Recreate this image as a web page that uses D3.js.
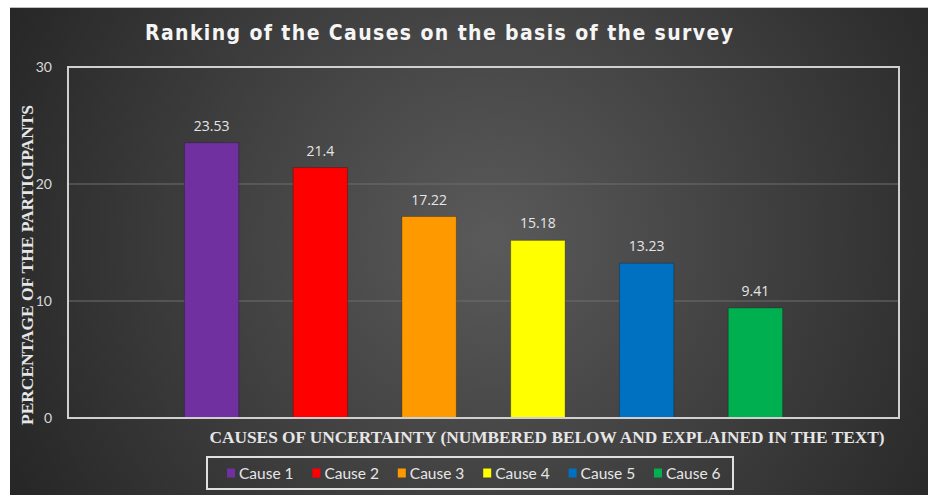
<!DOCTYPE html>
<html>
<head>
<meta charset="utf-8">
<script src="https://cdn.jsdelivr.net/npm/d3@7"></script>
<style>
  body { margin: 0; background: #ffffff; }
  svg { display: block; }
</style>
</head>
<body>
<div id="chart"></div>
<script>
// data
var causes = ["Cause 1", "Cause 2", "Cause 3", "Cause 4", "Cause 5", "Cause 6"];
var percentages = [23.53, 21.4, 17.22, 15.18, 13.23, 9.41];
var valueLabels = ["23.53", "21.4", "17.22", "15.18", "13.23", "9.41"];
var barColors = ["#7030A0", "#FF0000", "#FF9900", "#FFFF00", "#0070C0", "#00B050"];
var yTicks = [0, 10, 20, 30];

var svgWidth = 928;
var svgHeight = 495;

// plot area
var margin = { top: 67, right: 29, bottom: 77, left: 68 };
var chartWidth = svgWidth - margin.left - margin.right;
var chartHeight = svgHeight - margin.top - margin.bottom;

var svg = d3.select("#chart")
  .append("svg")
  .attr("width", svgWidth)
  .attr("height", svgHeight);

// dark radial background
var defs = svg.append("defs");
var grad = defs.append("radialGradient")
  .attr("id", "bg")
  .attr("gradientUnits", "userSpaceOnUse")
  .attr("cx", 490).attr("cy", 240).attr("r", 530);
grad.append("stop").attr("offset", "0%").attr("stop-color", "#5a5a5a");
grad.append("stop").attr("offset", "100%").attr("stop-color", "#272727");

svg.append("rect")
  .attr("x", 10).attr("y", 8)
  .attr("width", svgWidth - 10).attr("height", svgHeight - 8)
  .attr("fill", "url(#bg)");
svg.append("line")
  .attr("x1", 10).attr("x2", svgWidth)
  .attr("y1", 7.5).attr("y2", 7.5)
  .attr("stroke", "#bfbfbf").attr("stroke-width", 1);

// title
svg.append("text")
  .attr("x", 439)
  .attr("y", 40)
  .attr("text-anchor", "middle")
  .attr("textLength", 588)
  .attr("lengthAdjust", "spacing")
  .style("font-family", "'DejaVu Sans Condensed', 'DejaVu Sans', sans-serif")
  .style("font-weight", "bold")
  .style("font-size", "21px")
  .style("fill", "#f5f5f5")
  .text("Ranking of the Causes on the basis of the survey");

var chartGroup = svg.append("g")
  .attr("transform", `translate(${margin.left}, ${margin.top})`);

var xBandScale = d3.scaleBand()
  .domain(causes)
  .range([0, chartWidth])
  .paddingInner(0.5)
  .paddingOuter(1.07);

var yLinearScale = d3.scaleLinear()
  .domain([0, 30])
  .range([chartHeight, 0]);

// gridlines
chartGroup.selectAll(".grid")
  .data(yTicks.filter(d => d > 0 && d < 30))
  .enter()
  .append("line")
  .attr("x1", 0)
  .attr("x2", chartWidth)
  .attr("y1", d => yLinearScale(d))
  .attr("y2", d => yLinearScale(d))
  .attr("stroke", "#6e6e6e")
  .attr("stroke-width", 1);

// left axis, labels only
var leftAxis = d3.axisLeft(yLinearScale)
  .tickValues(yTicks)
  .tickSize(0)
  .tickPadding(16);

var yAxis = chartGroup.append("g").call(leftAxis);
yAxis.select(".domain").remove();
yAxis.selectAll("text")
  .style("font-family", "Lato, 'Open Sans', sans-serif")
  .style("font-size", "14px")
  .style("fill", "#d9d9d9");

// bars
chartGroup.selectAll(".bar")
  .data(percentages)
  .enter()
  .append("rect")
  .attr("class", "bar")
  .attr("x", (d, i) => xBandScale(causes[i]))
  .attr("y", d => yLinearScale(d))
  .attr("width", xBandScale.bandwidth())
  .attr("height", d => chartHeight - yLinearScale(d))
  .attr("fill", (d, i) => barColors[i])
  .attr("stroke", "rgba(0,0,0,0.25)")
  .attr("stroke-width", 1);

// value labels
chartGroup.selectAll(".value")
  .data(percentages)
  .enter()
  .append("text")
  .attr("x", (d, i) => xBandScale(causes[i]) + xBandScale.bandwidth() / 2)
  .attr("y", d => yLinearScale(d) - 12)
  .attr("text-anchor", "middle")
  .style("font-family", "'Open Sans', sans-serif")
  .style("font-size", "14px")
  .style("fill", "#e6e6e6")
  .text((d, i) => valueLabels[i]);

// plot border
chartGroup.append("rect")
  .attr("x", 0).attr("y", 0)
  .attr("width", chartWidth).attr("height", chartHeight)
  .attr("fill", "none")
  .attr("stroke", "#d0d0d0")
  .attr("stroke-width", 2);

// axis titles
svg.append("text")
  .attr("transform", "rotate(-90)")
  .attr("x", -265)
  .attr("y", 33)
  .attr("text-anchor", "middle")
  .attr("textLength", 320)
  .attr("lengthAdjust", "spacingAndGlyphs")
  .style("font-family", "'Liberation Serif', serif")
  .style("font-weight", "bold")
  .style("font-size", "16px")
  .style("fill", "#e6e6e6")
  .text("PERCENTAGE OF THE PARTICIPANTS");

svg.append("text")
  .attr("x", 547)
  .attr("y", 443)
  .attr("text-anchor", "middle")
  .attr("textLength", 675)
  .attr("lengthAdjust", "spacingAndGlyphs")
  .style("font-family", "'Liberation Serif', serif")
  .style("font-weight", "bold")
  .style("font-size", "16px")
  .style("fill", "#e6e6e6")
  .text("CAUSES OF UNCERTAINTY (NUMBERED BELOW AND EXPLAINED IN THE TEXT)");

// legend
var legendGroup = svg.append("g");
legendGroup.append("rect")
  .attr("x", 207).attr("y", 457)
  .attr("width", 526).attr("height", 32)
  .attr("fill", "none")
  .attr("stroke", "#e0e0e0")
  .attr("stroke-width", 2);

var legendItems = legendGroup.selectAll(".legend-item")
  .data(causes)
  .enter()
  .append("g")
  .attr("transform", (d, i) => `translate(${227 + i * 85.4}, 473)`);

legendItems.append("rect")
  .attr("x", 0).attr("y", -4.5)
  .attr("width", 8).attr("height", 9)
  .attr("fill", (d, i) => barColors[i]);

legendItems.append("text")
  .attr("x", 12)
  .attr("y", 5.5)
  .style("font-family", "Lato, 'Open Sans', sans-serif")
  .style("font-size", "15.5px")
  .style("fill", "#e6e6e6")
  .text(d => d);
</script>
</body>
</html>
